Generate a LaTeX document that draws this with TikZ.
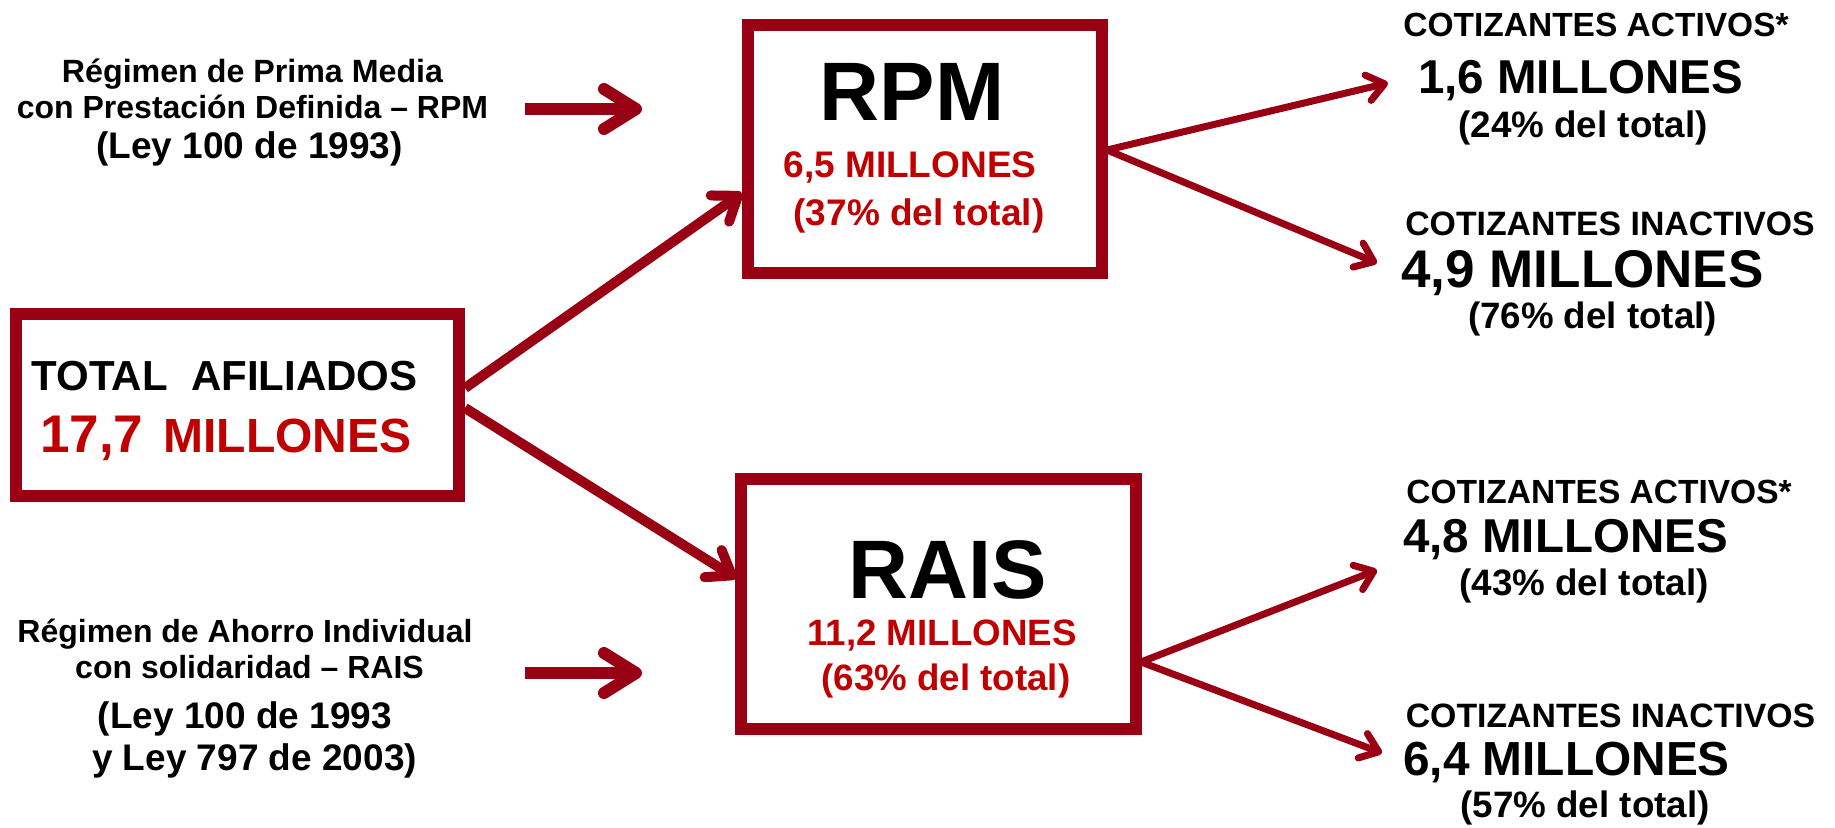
\documentclass[tikz,border=0pt]{standalone}
\usepackage{fontspec}
\setmainfont{Liberation Sans}
\usetikzlibrary{arrows.meta,shadows.blur}
\definecolor{bord}{HTML}{990014}
\definecolor{redtxt}{HTML}{C00000}
\newcommand\fsz[1]{\fontsize{#1}{#1}\selectfont}
\begin{document}
\begin{tikzpicture}[x=1pt,y=-1pt,
  box/.style={draw=bord,line width=12pt,fill=white,inner sep=0pt,
    blur shadow={shadow xshift=2pt,shadow yshift=-4pt,shadow opacity=25,shadow blur radius=4pt}},
  txt/.style={anchor=base,inner sep=0pt,font=\bfseries},
  rtxt/.style={txt,text=redtxt},
  harrow/.style={draw=bord,line width=12pt,-{Straight Barb[length=32pt,width=40pt,round]}},
  darrow/.style={draw=bord,line width=10pt,-{Straight Barb[length=22pt,width=32pt,round]}},
  sarrow/.style={draw=bord,line width=7pt,-{Straight Barb[length=17pt,width=26pt,round]}}
]
\useasboundingbox (0,0) rectangle (1835,827);

% boxes
\node[box,minimum width=443pt,minimum height=182pt] (total) at (237.5,405) {};
\node[box,minimum width=354.5pt,minimum height=248pt] (rpm) at (924.75,148.5) {};
\node[box,minimum width=395pt,minimum height=250pt] (rais) at (938.5,604) {};

% left texts
\node[txt] (l1a) at (252.5,82) {\fsz{32.2}Régimen de Prima Media};
\node[txt] (l1b) at (252.5,118) {\fsz{32}con Prestación Definida – RPM};
\node[txt] (l1c) at (249.5,158) {\fsz{37}(Ley 100 de 1993)};
\node[txt] (l2a) at (245,642) {\fsz{32}Régimen de Ahorro Individual};
\node[txt] (l2b) at (249.5,678) {\fsz{32}con solidaridad – RAIS};
\node[txt] (l2c) at (245,728) {\fsz{37}(Ley 100 de 1993};
\node[txt] (l2d) at (254.5,770) {\fsz{37}y Ley 797 de 2003)};

% total box texts
\node[txt] (tot1) at (224.5,390) {\fsz{42}TOTAL\ \ AFILIADOS};
\node[rtxt,anchor=base west] (tot2) at (40,452) {{\fsz{53}17,7}\hspace{20pt}{\fsz{48}MILLONES}};

% rpm texts
\node[txt] (rpm1) at (912,120) {\fsz{83}RPM};
\node[rtxt] (rpm2) at (910,177) {\fsz{37}6,5 MILLONES};
\node[rtxt] (rpm3) at (919,225) {\fsz{37}(37\% del total)};

% rais texts
\node[txt] (rais1) at (948,598) {\fsz{83}RAIS};
\node[rtxt] (rais2) at (942,645) {\fsz{36.7}11,2 MILLONES};
\node[rtxt] (rais3) at (946,690) {\fsz{36.7}(63\% del total)};

% right upper texts
\node[txt] (ra1) at (1596,36) {\fsz{33.5}COTIZANTES ACTIVOS*};
\node[txt] (ra2) at (1580.5,93) {\fsz{47.5}1,6 MILLONES};
\node[txt] (ra3) at (1583,137) {\fsz{36.8}(24\% del total)};
\node[txt] (ri1) at (1610,235) {\fsz{33.8}COTIZANTES INACTIVOS};
\node[txt] (ri2) at (1582.5,287) {\fsz{53}4,9 MILLONES};
\node[txt] (ri3) at (1592.5,328) {\fsz{36.7}(76\% del total)};

% right lower texts
\node[txt] (sa1) at (1599,503) {\fsz{33.5}COTIZANTES ACTIVOS*};
\node[txt] (sa2) at (1565.5,552) {\fsz{47.5}4,8 MILLONES};
\node[txt] (sa3) at (1584,595) {\fsz{36.8}(43\% del total)};
\node[txt] (si1) at (1610.5,727) {\fsz{33.8}COTIZANTES INACTIVOS};
\node[txt] (si2) at (1566.5,775) {\fsz{47.8}6,4 MILLONES};
\node[txt] (si3) at (1585,817) {\fsz{36.8}(57\% del total)};

% connector coordinates
\coordinate (hA0) at (525,109);
\coordinate (hA1) at (642,109);
\coordinate (hB0) at (525,673);
\coordinate (hB1) at (642,673);
\coordinate (tOutA) at (465,388);
\coordinate (tOutB) at (465,408);
\coordinate (rpmIn) at (742,193);
\coordinate (raisIn) at (736,578);
\coordinate (rpmOut) at (1107,150);
\coordinate (raisOut) at (1141,662);
\coordinate (raE) at (1388,83);
\coordinate (riE) at (1377,263);
\coordinate (saE) at (1377,570);
\coordinate (siE) at (1382,753);

% connectors
\draw[harrow] (hA0) -- (hA1);
\draw[harrow] (hB0) -- (hB1);
\draw[darrow] (tOutA) -- (rpmIn);
\draw[darrow] (tOutB) -- (raisIn);
\draw[sarrow] (rpmOut) -- (raE);
\draw[sarrow] (rpmOut) -- (riE);
\draw[sarrow] (raisOut) -- (saE);
\draw[sarrow] (raisOut) -- (siE);
\end{tikzpicture}
\end{document}
